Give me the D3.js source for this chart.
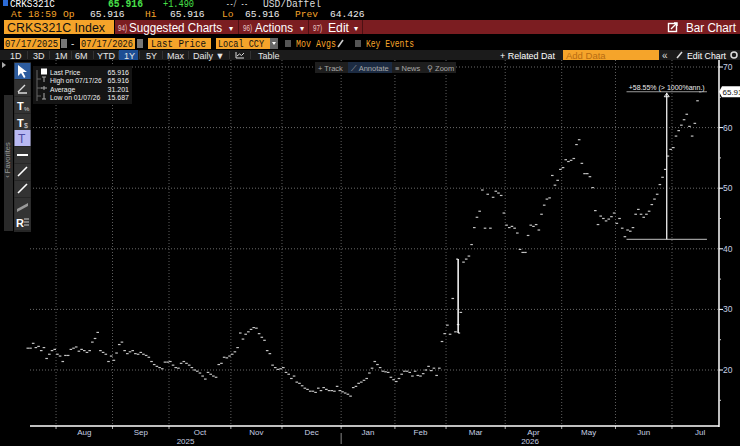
<!DOCTYPE html>
<html>
<head>
<meta charset="utf-8">
<script src="https://cdn.jsdelivr.net/npm/d3@7"></script>
<style>
body { margin:0; background:#000; overflow:hidden; }
text { font-family: "Liberation Sans", Arial, sans-serif; }
.mono { font-family: "Liberation Mono", "DejaVu Sans Mono", monospace; }
</style>
</head>
<body>
<svg id="chart" width="740" height="446"></svg>
<script>
// daily closes, one array per month (trading days only)
var jul25 = [23.6, 23.6, 24.4, 23.7, 23.9, 23.2, 23.7, 21.9, 22.6, 23.2, 23.4];
var aug25 = [22.6, 22.3, 21.4, 22.4, 22.4, 23.4, 23.6, 23.8, 23.1, 23.4, 23.2, 22.9, 23.2, 24.6, 25.2, 26.2, 23.2, 22.9, 22.6, 21.4, 22.3];
var sep25 = [21.6, 22.8, 24.2, 24.6, 23.2, 22.7, 23.0, 23.2, 22.7, 22.6, 22.9, 22.6, 22.4, 22.1, 21.4, 20.9, 20.6, 20.4, 20.2, 21.3, 21.3];
var oct25 = [21.4, 20.8, 20.4, 20.3, 21.1, 21.4, 21.1, 20.8, 20.4, 20.0, 19.8, 19.5, 19.0, 18.5, 19.6, 19.3, 19.0, 18.8, 20.9, 21.1, 22.1, 22.0, 22.3];
var nov25 = [22.6, 23.0, 23.7, 26.1, 25.1, 25.9, 26.3, 26.7, 27.0, 26.9, 26.0, 25.4, 24.9, 23.2, 22.7, 20.8, 20.4, 20.1, 20.2];
var dec25 = [20.4, 19.6, 19.3, 18.6, 19.0, 18.0, 17.8, 17.4, 17.0, 16.8, 16.5, 16.5, 16.3, 17.0, 16.6, 17.1, 16.8, 16.6, 16.6, 16.5, 17.3, 16.6];
var jan26 = [16.4, 16.2, 16.0, 15.687, 17.1, 17.3, 17.8, 18.0, 18.3, 18.6, 19.5, 20.3, 21.4, 20.9, 20.4, 19.8, 19.7, 19.6, 18.8, 18.4];
var feb26 = [18.1, 18.6, 19.3, 19.8, 19.8, 19.6, 19.0, 19.8, 19.1, 19.0, 19.4, 20.0, 20.6, 19.9, 20.3, 19.1, 20.3, 24.7, 26.0];
var mar26 = [27.4, 25.9, 31.8, 26.3, 27.5, 29.5, 37.8, 38.3, 38.8, 40.7, 43.5, 45.2, 46.2, 49.7, 43.4, 49.0, 43.4, 48.5, 49.5, 49.2, 48.8, 45.9];
var apr26 = [43.9, 43.5, 43.7, 43.4, 42.6, 39.9, 39.4, 39.4, 42.2, 43.9, 43.7, 44.0, 43.1, 45.7, 47.2, 48.2, 48.4, 52.1, 50.5, 51.3, 53.1];
var may26 = [53.4, 54.7, 54.4, 54.6, 54.9, 57.2, 58.0, 54.1, 52.4, 52.4, 51.9, 50.1, 46.3, 44.0, 45.4, 45.0, 44.6, 44.9, 45.3, 45.9];
var jun26 = [44.2, 45.0, 43.4, 42.0, 43.1, 42.9, 43.5, 45.7, 46.5, 45.7, 45.2, 45.7, 46.2, 47.3, 48.2, 49.0, 50.6, 51.8, 53.1, 55.3, 56.4];
var jul26 = [56.7, 58.6, 59.5, 60.4, 61.3, 62.2, 60.2, 58.6, 60.7, 64.426, 65.916];

var monthNames = ["Jul", "Aug", "Sep", "Oct", "Nov", "Dec", "Jan", "Feb", "Mar", "Apr", "May", "Jun", "Jul"];
var monthCloses = [jul25, aug25, sep25, oct25, nov25, dec25, jan26, feb26, mar26, apr26, may26, jun26, jul26];
var yearNames = ["2025", "2026"];
var yTicks = [20, 30, 40, 50, 60, 70];
var yMinor = [15, 25, 35, 45, 55, 65];

// the one wide-range day (high / low)
var spikeDay = [160];
var spikeHigh = [38.3];
var spikeLow = [26.1];

// percent change measurement
var measureIdx = [222.6, 252.5];
var measureVal = [41.57, 65.916];
var measureText = "+58.55% (> 1000%ann.)";

var legendNames = ["Last Price", "High on 07/17/26", "Average", "Low on 01/07/26"];
var legendValues = ["65.916", "65.916", "31.201", "15.687"];

var closes = [];
var starts = [];
monthCloses.forEach(function(m) { starts.push(closes.length); closes = closes.concat(m); });

var svg = d3.select("#chart");
var ORANGE = "#f5a42a", RED = "#7b1d21";

function t(x, y, s, fill, size, w) {
  var e = svg.append("text").attr("x", x).attr("y", y).text(s)
    .attr("fill", fill).style("font-size", size + "px");
  if (w) e.attr("textLength", w).attr("lengthAdjust", "spacingAndGlyphs");
  return e;
}
function box(x, y, w, h, fill) {
  return svg.append("rect").attr("x", x).attr("y", y).attr("width", w).attr("height", h).attr("fill", fill);
}

// ---------- header row 1 (clipped ticker line)
box(3, 0, 5, 6, "#2c6bd6");
t(10, 6.5, "CRKS321C", "#fff", 11, 45).attr("class", "mono");
t(108, 6.5, "65.916", "#49e04a", 11, 35).attr("class", "mono").style("font-weight", "bold");
t(163, 6.5, "+1.490", "#49e04a", 11, 31).attr("class", "mono");
t(226, 6.5, "--/ --", "#ddd", 10, 22).attr("class", "mono");
t(263, 6.5, "USD/Daffel", "#ddd", 10, 58).attr("class", "mono");

// ---------- row 2
[["At", 11, ORANGE], ["18:59", 28, ORANGE], ["Op", 63, ORANGE], ["65.916", 90, "#eee"],
 ["Hi", 145, ORANGE], ["65.916", 170, "#eee"], ["Lo", 222, ORANGE], ["65.916", 245, "#eee"],
 ["Prev", 295, ORANGE], ["64.426", 330, "#eee"]].forEach(function(d) {
  t(d[1], 17, d[0], d[2], 9.6).attr("class", "mono");
});

// ---------- row 3 (red bar)
box(115, 20, 625, 14, RED);
box(4, 20, 110, 14, ORANGE);
t(7, 31.5, "CRKS321C Index", "#111", 12.5, 98);
[238, 308, 362].forEach(function(x) { box(x, 20, 1, 14, "#4d1013"); });
t(118, 31, "94)", "#e8c8c8", 8.5, 9);
t(129, 31.5, "Suggested Charts", "#fff", 12, 93);
t(229, 30.5, "▾", "#fff", 8);
t(243, 31, "96)", "#e8c8c8", 8.5, 9);
t(255, 31.5, "Actions", "#fff", 12, 38);
t(300, 30.5, "▾", "#fff", 8);
t(313, 31, "97)", "#e8c8c8", 8.5, 9);
t(328, 31.5, "Edit", "#fff", 12, 21);
t(354, 30.5, "▾", "#fff", 8);
svg.append("rect").attr("x", 668.5).attr("y", 23.5).attr("width", 8).attr("height", 8).attr("fill", "none").attr("stroke", "#fff").attr("stroke-width", 1.4);
svg.append("path").attr("d", "M671,29 L677,23 M674,23 L677,23 L677,26").attr("stroke", "#fff").attr("stroke-width", 1.4).attr("fill", "none");
t(686, 31.5, "Bar Chart", "#fff", 12, 50);

// ---------- row 4 (date / field boxes)
box(4, 38, 56, 11, ORANGE); t(5, 47, "07/17/2025", "#111", 10, 53).attr("class", "mono");
box(61, 39, 6, 9, "#777");
t(71, 47, "-", "#ddd", 10);
box(80, 38, 55, 11, ORANGE); t(81, 47, "07/17/2026", "#111", 10, 52).attr("class", "mono");
box(137, 39, 6, 9, "#777");
box(148, 38, 63, 11, ORANGE); t(151, 47, "Last Price", "#111", 10, 55).attr("class", "mono");
box(216, 38, 54, 11, ORANGE); t(218, 47, "Local CCY", "#111", 10, 46).attr("class", "mono");
box(270, 38, 8, 11, "#666");
svg.append("path").attr("d", "M272,42 L276,42 L274,45Z").attr("fill", "#fff");
box(285, 40, 6, 7, "#555");
t(296, 47, "Mov Avgs", ORANGE, 10, 40).attr("class", "mono");
svg.append("path").attr("d", "M338,47 L343,40").attr("stroke", "#ccc").attr("stroke-width", 1.6);
box(355, 40, 6, 7, "#555");
t(366, 47, "Key Events", ORANGE, 10, 48).attr("class", "mono");

// ---------- row 5 (period toolbar)
box(0, 50, 740, 10, "#1b1b1b");
box(119, 50, 19, 10, "#1d4e94");
[["1D", 10], ["3D", 33], ["1M", 55], ["6M", 75], ["YTD", 97], ["1Y", 124], ["5Y", 146], ["Max", 167], ["Daily ▼", 193], ["Table", 258]]
  .forEach(function(d) { t(d[1], 58.5, d[0], "#e6e6e6", 9); });
[27, 49, 71, 93, 118, 139, 162, 188, 229, 250].forEach(function(x) { box(x, 51, 1, 8, "#333"); });
svg.append("path").attr("d", "M236,58 L236,52 M236,58 L244,58 M237,56 L239.5,54 L241.5,55.5 L244,53").attr("stroke", "#ddd").attr("fill", "none");
t(500, 58.5, "+ Related Dat", "#fff", 9, 55);
box(563, 50, 96, 10, ORANGE);
t(566, 58.5, "Add Data", "#b86c12", 9.5);
t(662, 58.5, "«", "#ddd", 10);
svg.append("path").attr("d", "M677,58 L682,52").attr("stroke", "#ddd").attr("stroke-width", 1.5);
t(687, 58.5, "Edit Chart", "#fff", 9, 39);
svg.append("circle").attr("cx", 734).attr("cy", 55).attr("r", 3).attr("fill", "none").attr("stroke", "#ddd").attr("stroke-width", 1.5);

// ---------- scales
var x = d3.scaleLinear().domain([0, 251]).range([27.8, 702.9]);
var y = d3.scaleLinear().domain([10, 70]).range([430.6, 67]);
var L = 30, R = 719, TOP = 60, B = 426;

var grid = svg.append("g");
yTicks.forEach(function(v) {
  grid.append("line").attr("x1", L).attr("x2", R).attr("y1", y(v)).attr("y2", y(v))
    .attr("stroke", "#6a6a6a").attr("stroke-dasharray", "1,2");
});
var gx = starts.map(function(s) { return x(s - 0.5); });
for (var m = 1; m < gx.length; m++) {
  grid.append("line").attr("x1", gx[m]).attr("x2", gx[m]).attr("y1", TOP).attr("y2", B)
    .attr("stroke", "#5e5e5e").attr("stroke-dasharray", "1,2");
  grid.append("line").attr("x1", gx[m]).attr("x2", gx[m]).attr("y1", B).attr("y2", B + 3).attr("stroke", "#aaa");
  var a = gx[m], b = m < gx.length - 1 ? gx[m + 1] : a + (a - gx[m - 1]);
  svg.append("text").attr("x", (a + b) / 2).attr("y", 434.5).attr("text-anchor", "middle")
    .attr("fill", "#c6d0e4").style("font-size", "8px").text(monthNames[m]);
}
var xJan = gx[6];
svg.append("line").attr("x1", xJan).attr("x2", xJan).attr("y1", 433).attr("y2", 444).attr("stroke", "#888");
svg.append("text").attr("x", (L + xJan) / 2).attr("y", 444).attr("text-anchor", "middle")
  .attr("fill", "#c6d0e4").style("font-size", "8px").text(yearNames[0]);
svg.append("text").attr("x", (xJan + R) / 2).attr("y", 444).attr("text-anchor", "middle")
  .attr("fill", "#c6d0e4").style("font-size", "8px").text(yearNames[1]);

// ---------- price dashes
svg.append("g").selectAll("line").data(closes).enter().append("line")
  .attr("x1", function(d, i) { return x(i) - 1.3; })
  .attr("x2", function(d, i) { return x(i) + 1.3; })
  .attr("y1", function(d) { return y(d); })
  .attr("y2", function(d) { return y(d); })
  .attr("stroke", "#c4c4c4").attr("stroke-width", 1.2);

spikeDay.forEach(function(d, i) {
  svg.append("line").attr("x1", x(d)).attr("x2", x(d)).attr("y1", y(spikeHigh[i])).attr("y2", y(spikeLow[i]))
    .attr("stroke", "#fff").attr("stroke-width", 1.5);
  svg.append("line").attr("x1", x(d) - 2).attr("x2", x(d)).attr("y1", y(spikeHigh[i])).attr("y2", y(spikeHigh[i])).attr("stroke", "#fff");
  svg.append("line").attr("x1", x(d)).attr("x2", x(d) + 2).attr("y1", y(spikeLow[i])).attr("y2", y(spikeLow[i])).attr("stroke", "#fff");
});

// ---------- measurement annotation
var mx0 = x(measureIdx[0]), mx1 = x(measureIdx[1]), mxm = (mx0 + mx1) / 2;
svg.append("line").attr("x1", mx0).attr("x2", mx1).attr("y1", y(measureVal[0])).attr("y2", y(measureVal[0]))
  .attr("stroke", "#9a9a9a").attr("stroke-width", 1.2);
svg.append("line").attr("x1", mx0).attr("x2", mx1).attr("y1", y(measureVal[1])).attr("y2", y(measureVal[1]))
  .attr("stroke", "#9a9a9a").attr("stroke-width", 1.2);
svg.append("line").attr("x1", mxm).attr("x2", mxm).attr("y1", y(measureVal[1]) + 1).attr("y2", y(measureVal[0]))
  .attr("stroke", "#f0f0f0").attr("stroke-width", 1.3);
svg.append("path").attr("d", "M" + (mxm - 2.5) + "," + (y(measureVal[1]) + 5) + " L" + mxm + "," + (y(measureVal[1]) + 1.5) + " L" + (mxm + 2.5) + "," + (y(measureVal[1]) + 5) + "Z")
  .attr("fill", "none").attr("stroke", "#fff").attr("stroke-width", 0.9);
svg.append("text").attr("x", mxm).attr("y", y(measureVal[1]) - 2).attr("text-anchor", "middle")
  .attr("fill", "#eee").style("font-size", "7px").text(measureText);

// ---------- axes
svg.append("line").attr("x1", R).attr("x2", R).attr("y1", TOP).attr("y2", B + 1).attr("stroke", "#fff").attr("stroke-width", 1.5);
svg.append("line").attr("x1", L).attr("x2", R).attr("y1", B).attr("y2", B).attr("stroke", "#fff").attr("stroke-width", 1.5);
yTicks.forEach(function(v) {
  svg.append("line").attr("x1", R).attr("x2", R + 4).attr("y1", y(v)).attr("y2", y(v)).attr("stroke", "#fff");
  svg.append("text").attr("x", R + 4).attr("y", y(v) + 3).attr("fill", "#c6d0e4").style("font-size", "8.5px").text(v);
});
yMinor.forEach(function(v) {
  svg.append("line").attr("x1", R).attr("x2", R + 2).attr("y1", y(v)).attr("y2", y(v)).attr("stroke", "#ccc");
});
var ly = y(closes[closes.length - 1]);
svg.append("path").attr("d", "M" + R + "," + ly + " L" + (R + 3) + "," + (ly - 5.5) + " L740," + (ly - 5.5) + " L740," + (ly + 5.5) + " L" + (R + 3) + "," + (ly + 5.5) + "Z")
  .attr("fill", "#fff");
svg.append("text").attr("x", R + 3.5).attr("y", ly + 3).attr("fill", "#111").style("font-size", "8px").text(closes[closes.length - 1].toFixed(3));

// ---------- chart toolbar (Track / Annotate / News / Zoom)
box(315, 62, 141, 11, "#1e1e1e");
box(348, 62, 44, 11, "#1c2b42");
[["+ Track", 318], ["⟋ Annotate", 351], ["≡ News", 395], ["⚲ Zoom", 427]].forEach(function(d) {
  t(d[1], 70.5, d[0], "#a9a9a9", 7.5);
});

// ---------- legend
box(33, 66, 99, 38, "#141414");
legendNames.forEach(function(n, i) {
  var yy = 74.5 + i * 8.5;
  t(50, yy, n, "#f0f0f0", 6.8);
  svg.append("text").attr("x", 129).attr("y", yy).attr("text-anchor", "end").attr("fill", "#f0f0f0")
    .style("font-size", "7px").text(legendValues[i]);
});
box(41, 68.5, 6, 6, "#fff");
svg.append("path").attr("d", "M37,70 L37,101 M37,79 L41,79 M37,88 L42,88 M37,96 L41,96").attr("stroke", "#666").attr("fill", "none");
svg.append("path").attr("d", "M42,77 L46,77 M44,77 L44,82 M41,88 L47,88 M44,86 L44,90 M44,93 L44,99 M42,99 L46,99").attr("stroke", "#aaa").attr("fill", "none");

// ---------- left drawing toolbar
svg.append("path").attr("d", "M2,62 L6,65 L2,68Z").attr("fill", "#aaa");
box(4, 95, 9, 136, "#2a2a2a");
svg.append("text").attr("transform", "translate(10,160) rotate(-90)").attr("text-anchor", "middle")
  .attr("fill", "#999").style("font-size", "7.5px").text("‹ Favorites");
box(14, 62, 17, 170, "#262626");
var btnY = [63, 80, 97, 114, 130, 147, 164, 181, 198, 214];
btnY.forEach(function(by, i) {
  box(14.5, by, 16, 16, i === 0 ? "#2d5c9e" : (i === 4 ? "#b9b9f2" : "#333"));
});
svg.append("path").attr("d", "M18,65 L18,76 L21,73 L24,78 L25.5,77 L23,72 L27,72Z").attr("fill", "#fff");
svg.append("path").attr("d", "M18,92 L25,85 M18,93 L27,93").attr("stroke", "#ddd").attr("stroke-width", 1.4);
t(17, 110, "T", "#fff", 11).style("font-weight", "bold");
t(24, 111, "%", "#ddd", 6);
t(17, 127, "T", "#fff", 11).style("font-weight", "bold");
t(24, 128, "$", "#ddd", 7);
t(18, 143, "T", "#4a4aa0", 12);
box(17, 154, 11, 2, "#fff");
svg.append("path").attr("d", "M18,176 L27,167").attr("stroke", "#fff").attr("stroke-width", 1.6);
svg.append("path").attr("d", "M18,193 L27,184").attr("stroke", "#fff").attr("stroke-width", 1.6);
svg.append("path").attr("d", "M17,209 L28,203 L28,206 L17,212Z").attr("fill", "#999");
t(16, 227, "R", "#fff", 11).style("font-weight", "bold");
svg.append("path").attr("d", "M24,219 L29,219 M24,222 L29,222 M24,225 L29,225").attr("stroke", "#ccc");
</script>
</body>
</html>
